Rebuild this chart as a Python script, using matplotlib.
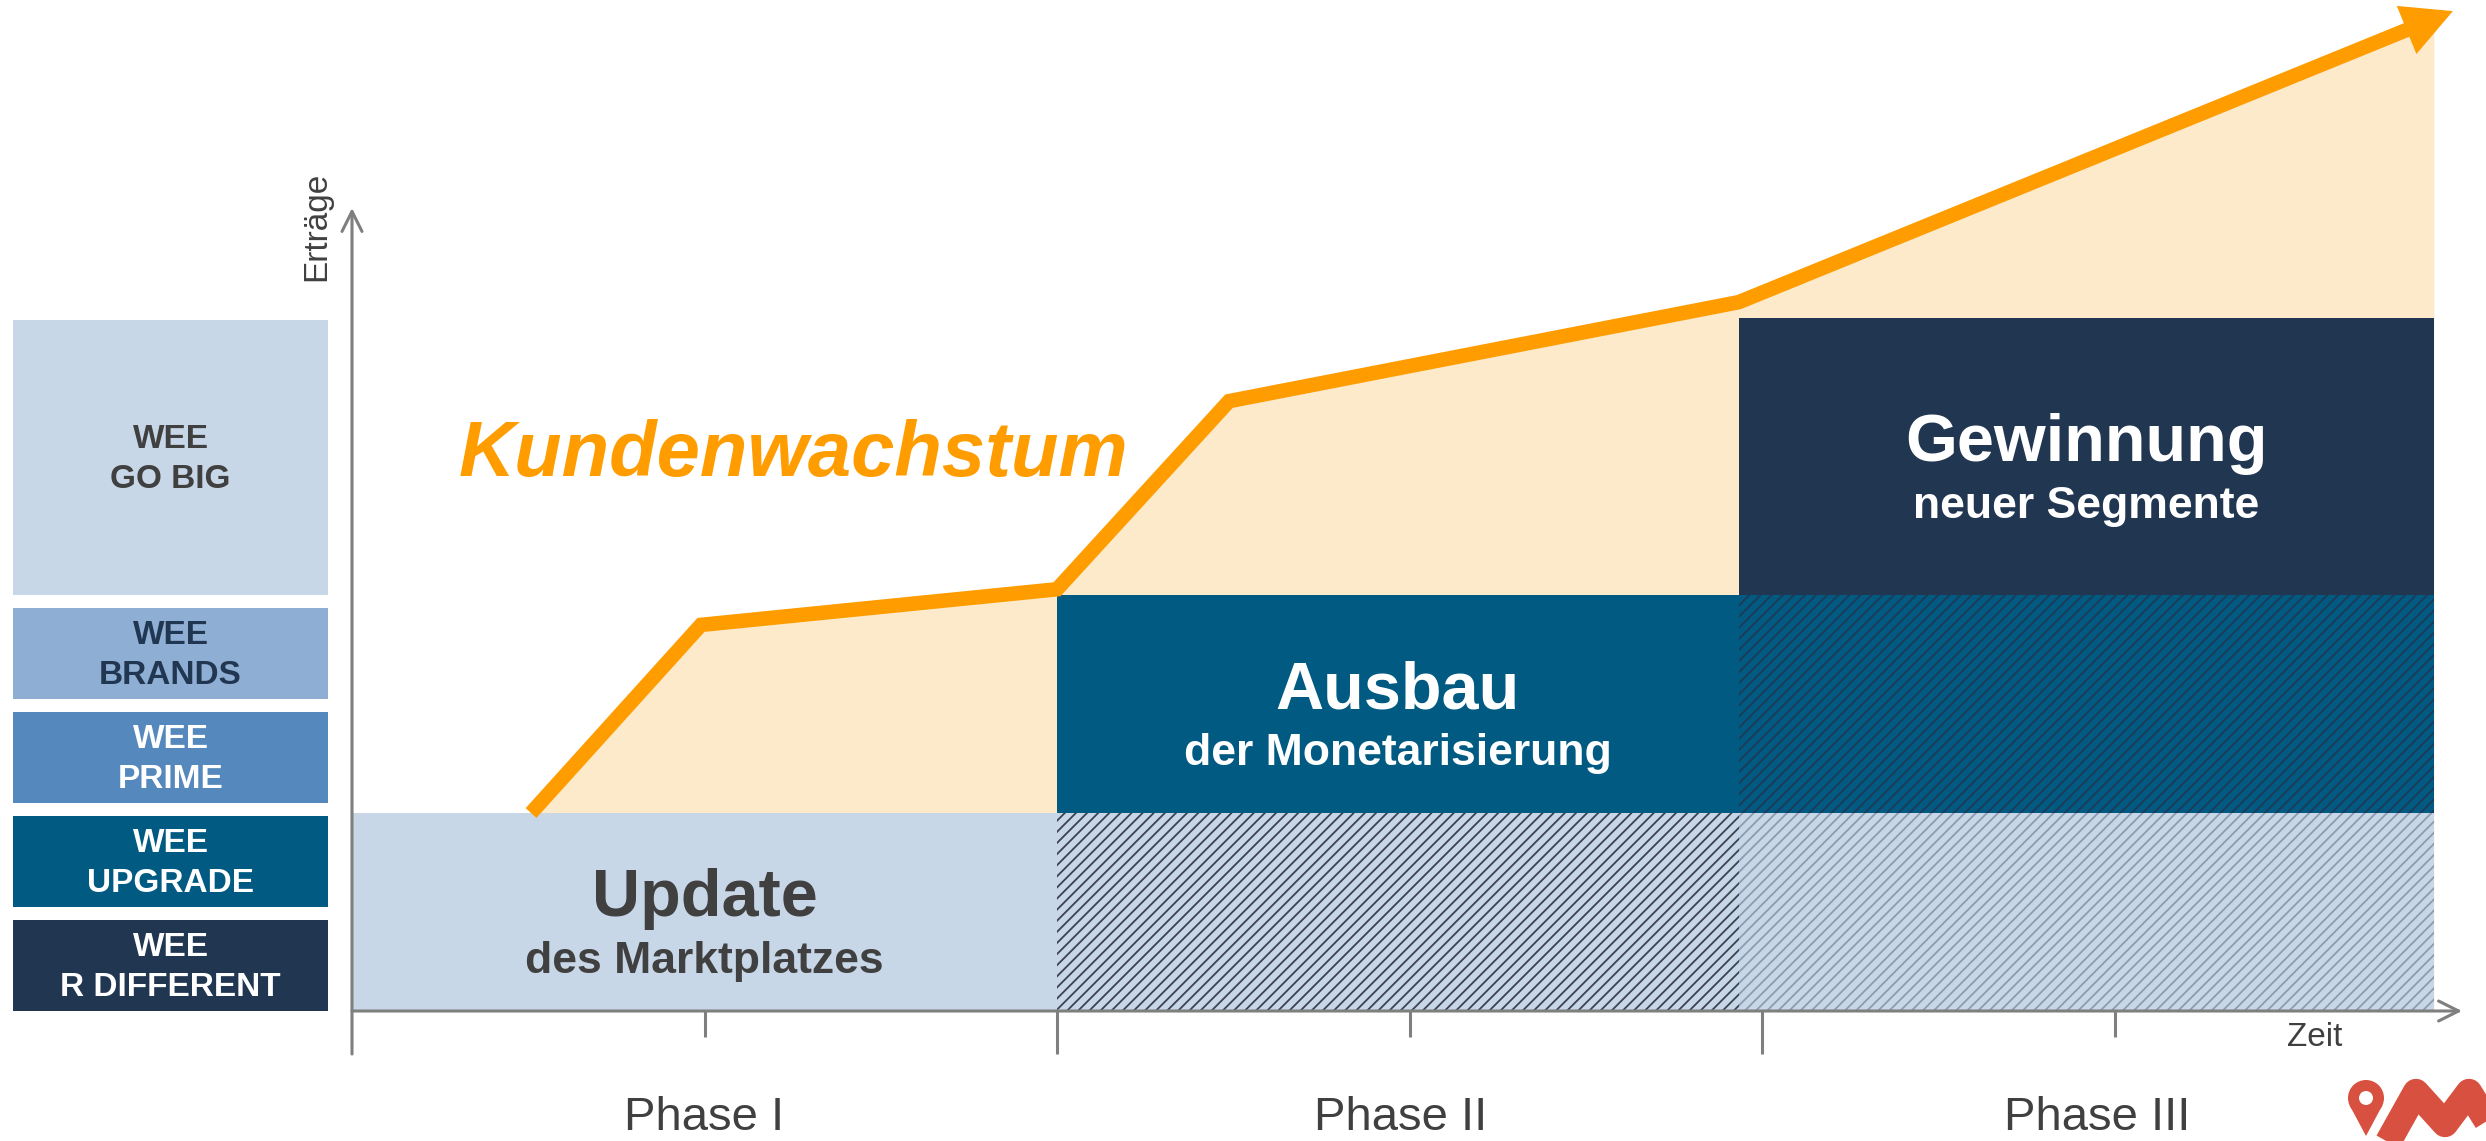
import matplotlib.pyplot as plt
import matplotlib.patches as mpatches
import numpy as np

plt.rcParams['font.family'] = ['Liberation Sans', 'DejaVu Sans']
plt.rcParams['hatch.linewidth'] = 1.3

# --- Daten ---------------------------------------------------------------
phases = ['Phase I', 'Phase II', 'Phase III']
stage_titles = ['Update', 'Ausbau', 'Gewinnung']
stage_subtitles = ['des Marktplatzes', 'der Monetarisierung', 'neuer Segmente']
stage_edges = [0.0, 1.0, 1.967, 2.953]      # Zeit in Phasen
tier_levels = [0.0, 1.0, 2.1, 3.5]          # Erträge-Stufen
growth_x = [0.254, 0.495, 1.0, 1.244, 1.967, 2.98]
growth_y = [1.0, 1.95, 2.13, 3.08, 3.58, 5.05]
products = ['WEE\nR DIFFERENT', 'WEE\nUPGRADE', 'WEE\nPRIME', 'WEE\nBRANDS', 'WEE\nGO BIG']

# --- Stil ----------------------------------------------------------------
product_colors = ['#213651', '#005A82', '#5588BD', '#8EAED3', '#C8D7E7']
product_text = ['white', 'white', 'white', '#213651', '#404040']
stage_colors = ['#C8D7E7', '#005A82', '#213651']
stage_text = ['#404040', 'white', 'white']
orange = '#FF9C00'
orange_fill = '#FDEACB'
axis_gray = '#7F7F7F'
text_gray = '#404040'

W, H = 2486, 1141
px_x, px_y = 705.0, 198.0      # pixels per unit
org_x, org_y = 352, 1011       # position of the axis origin in pixels

fig = plt.figure(figsize=(W / 100, H / 100), dpi=100)
ax = fig.add_axes([0, 0, 1, 1])
ax.set_xlim(-org_x / px_x, (W - org_x) / px_x)
ax.set_ylim(-(H - org_y) / px_y, org_y / px_y)
ax.axis('off')

# fill under growth curve
fx = [x for x in growth_x if x < stage_edges[-1]] + [stage_edges[-1]]
fy = np.interp(fx, growth_x, growth_y)
ax.fill_between(fx, 0, fy, color=orange_fill, lw=0, zorder=1)

# stage blocks (staircase)
for i in range(3):
    x0, x1 = stage_edges[i], stage_edges[i + 1]
    y0, y1 = tier_levels[i], tier_levels[i + 1]
    ax.add_patch(mpatches.Rectangle((x0, y0), x1 - x0, y1 - y0,
                                    facecolor=stage_colors[i], lw=0, zorder=2))
    yc = (y0 + y1) / 2
    ax.text((x0 + x1) / 2, yc - 0.02, stage_titles[i], ha='center', va='baseline',
            fontsize=48, fontweight='bold', color=stage_text[i], zorder=5)
    ax.text((x0 + x1) / 2, yc - 0.31, stage_subtitles[i], ha='center', va='baseline',
            fontsize=32, fontweight='bold', color=stage_text[i], zorder=5)

# hatched continuation of earlier stages
hatches = [
    (1, 0, '#C8D7E7', '#3B4250'),
    (2, 0, '#C8D7E7', '#8C9BB0'),
    (2, 1, '#005A82', '#1F3A57'),
]
for col, row, base, hc in hatches:
    x0, x1 = stage_edges[col], stage_edges[col + 1]
    y0, y1 = tier_levels[row], tier_levels[row + 1]
    ax.add_patch(mpatches.Rectangle((x0, y0), x1 - x0, y1 - y0, facecolor=base,
                                    edgecolor=hc, hatch='///', lw=0, zorder=2))

# axes with arrows
xend = (2462 - org_x) / px_x
ytop = (org_y - 208) / px_y
ybot = -(1054 - org_y) / px_y
yminor = -(1037 - org_y) / px_y
arrow = dict(arrowstyle='->', lw=2.2, color=axis_gray, mutation_scale=36,
             shrinkA=0, shrinkB=0)
ax.annotate('', xy=(xend, 0), xytext=(0, 0), arrowprops=arrow, zorder=3)
ax.annotate('', xy=(0, ytop), xytext=(0, ybot), arrowprops=arrow, zorder=3)
ax.vlines([1, 2], ybot, 0, color=axis_gray, lw=2.2, zorder=3)
ax.vlines([0.5, 1.5, 2.5], yminor, 0, color=axis_gray, lw=2.2, zorder=3)

ax.text(-35 / px_x, (org_y - 226) / px_y, 'Erträge', rotation=90, ha='center',
        va='center', fontsize=24, color=text_gray)
ax.text((2315 - org_x) / px_x, yminor, 'Zeit', ha='center', va='center',
        fontsize=24, color=text_gray)
for i, p in enumerate(phases):
    ax.text(i + 0.5 - 0.012 * i, -(H - 1 - org_y) / px_y, p, ha='center',
            va='bottom', fontsize=34, color=text_gray)

# growth line with arrow head
pts = ax.transData.transform(np.column_stack([growth_x, growth_y]))
tip, prev = pts[-1], pts[-2]
d = (tip - prev) / np.linalg.norm(tip - prev)
n = np.array([-d[1], d[0]])
base = tip - d * 50
tri = ax.transData.inverted().transform([tip, base + n * 26, base - n * 26])
shaft_end = ax.transData.inverted().transform(base + d * 6)
ax.plot(growth_x[:-1] + [shaft_end[0]], growth_y[:-1] + [shaft_end[1]],
        color=orange, lw=10.5, solid_joinstyle='miter', solid_capstyle='butt', zorder=4)
ax.add_patch(mpatches.Polygon(tri, closed=True, color=orange, lw=0, zorder=4))

ax.text((793 - org_x) / px_x, (org_y - 476) / px_y, 'Kundenwachstum', ha='center',
        va='baseline', fontsize=56, fontweight='bold', fontstyle='italic',
        color=orange, zorder=5)

# product boxes on the left
lx0, lx1 = -339 / px_x, -24 / px_x
gap = 13 / px_y
h_small = (tier_levels[2] - gap - 3 * gap) / 4
for i, (name, c, tc) in enumerate(zip(products, product_colors, product_text)):
    if i < 4:
        y0 = i * (h_small + gap)
        h = h_small
    else:
        y0 = tier_levels[2]
        h = tier_levels[3] - tier_levels[2] - 0.01
    ax.add_patch(mpatches.Rectangle((lx0, y0), lx1 - lx0, h, facecolor=c, lw=0))
    ax.text((lx0 + lx1) / 2, y0 + h / 2 - 0.01, name, ha='center', va='center',
            fontsize=24, fontweight='bold', color=tc, linespacing=1.35)

# logo (bottom right)
lg = fig.add_axes([2330 / W, 0, 156 / W, 81 / H])
lg.set_xlim(2330, 2486)
lg.set_ylim(1141, 1060)
lg.axis('off')
logo_red = '#D8503F'
cx, cy, r = 2366, 1098, 18
lg.add_patch(mpatches.Circle((cx, cy), r, color=logo_red, lw=0))
lg.add_patch(mpatches.Polygon([(cx - r * 0.92, cy + 7), (cx + r * 0.92, cy + 7), (cx, 1136)],
                              closed=True, color=logo_red, lw=0))
lg.add_patch(mpatches.Circle((cx, cy), 7, color='white', lw=0))
lg.plot([2378, 2416, 2445, 2469, 2505], [1160, 1092, 1124, 1092, 1150], color=logo_red,
        lw=19, solid_joinstyle='round', solid_capstyle='butt')

fig.savefig('out.png', dpi=100)
